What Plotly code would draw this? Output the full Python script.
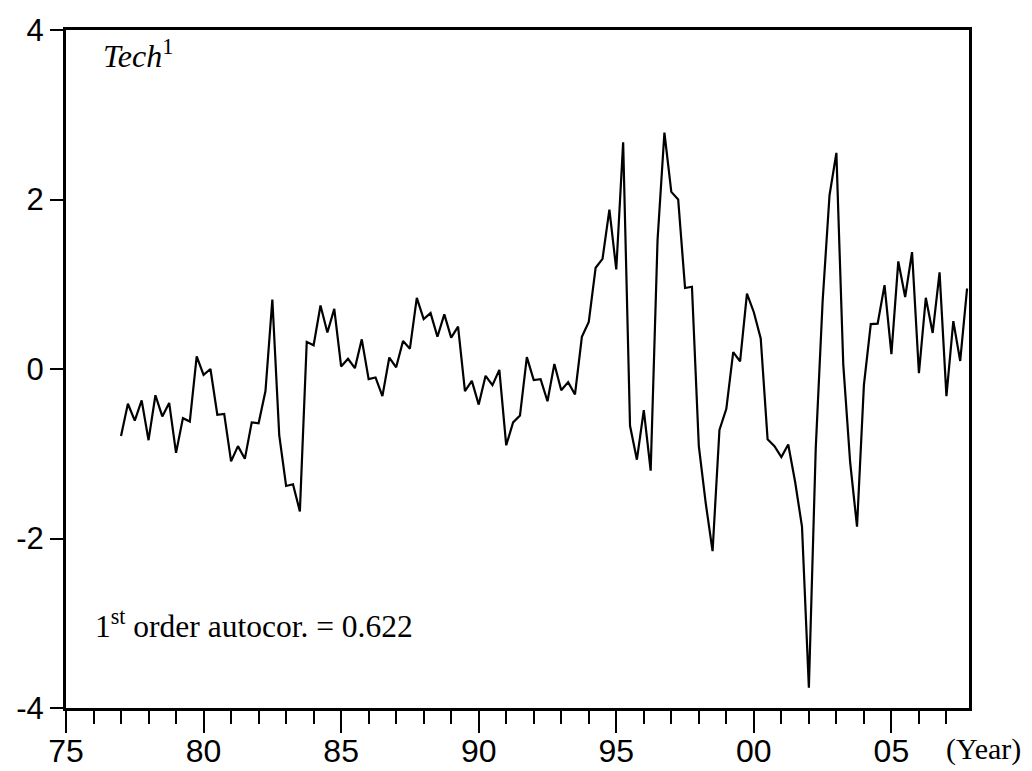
import plotly.graph_objects as go

# Quarterly series, 1977Q1 .. 2007Q4
start_year = 1977
tech_values = [
    -0.79, -0.41, -0.61, -0.37, -0.84, -0.31, -0.56, -0.40,
    -0.99, -0.58, -0.62, 0.15, -0.07, 0.00, -0.54, -0.53,
    -1.09, -0.91, -1.06, -0.63, -0.64, -0.26, 0.82, -0.78,
    -1.38, -1.36, -1.68, 0.32, 0.28, 0.75, 0.43, 0.71,
    0.03, 0.12, 0.01, 0.35, -0.12, -0.10, -0.32, 0.135,
    0.02, 0.33, 0.24, 0.84, 0.59, 0.66, 0.38, 0.645,
    0.37, 0.50, -0.26, -0.14, -0.42, -0.08, -0.19, -0.01,
    -0.90, -0.63, -0.55, 0.14, -0.13, -0.12, -0.38, 0.06,
    -0.25, -0.155, -0.30, 0.38, 0.555, 1.195, 1.30, 1.88,
    1.175, 2.675, -0.67, -1.07, -0.485, -1.20, 1.52, 2.79,
    2.09, 2.00, 0.955, 0.97, -0.91, -1.58, -2.15, -0.72,
    -0.47, 0.20, 0.09, 0.89, 0.67, 0.36, -0.83, -0.91,
    -1.04, -0.89, -1.33, -1.86, -3.76, -0.935, 0.80, 2.05,
    2.55, 0.055, -1.10, -1.86, -0.19, 0.53, 0.535, 0.99,
    0.175, 1.27, 0.85, 1.38, -0.05, 0.84, 0.425, 1.14,
    -0.32, 0.565, 0.095, 0.95,
]
x_years = [start_year + i / 4 for i in range(len(tech_values))]

x_tickvals = [1975, 1980, 1985, 1990, 1995, 2000, 2005]
x_ticktext = ["75", "80", "85", "90", "95", "00", "05"]
x_minorvals = list(range(1975, 2008))
y_tickvals = [-4, -2, 0, 2, 4]
y_ticktext = ["-4", "-2", "0", "2", "4"]

fig = go.Figure()
fig.add_trace(go.Scatter(
    x=x_years, y=tech_values, mode="lines",
    line=dict(color="black", width=2.2), showlegend=False,
))

sans = "Liberation Sans, Arial, sans-serif"
serif = "Liberation Serif, Times New Roman, serif"

fig.update_xaxes(
    range=[1975, 2007.82], tickmode="array", tickvals=x_tickvals, ticktext=x_ticktext,
    ticks="outside", ticklen=22, tickwidth=2, tickcolor="black",
    minor=dict(tickmode="array", tickvals=x_minorvals, ticks="outside", ticklen=13,
               tickwidth=2, tickcolor="black"),
    showline=True, linecolor="black", linewidth=3, mirror=True,
    showgrid=False, zeroline=False, automargin=False,
    ticklabelstandoff=-9,
    tickfont=dict(family=sans, size=32, color="black"),
)
fig.update_yaxes(
    range=[-4, 4], tickmode="array", tickvals=y_tickvals, ticktext=y_ticktext,
    ticks="outside", ticklen=13, tickwidth=2, tickcolor="black",
    showline=True, linecolor="black", linewidth=3, mirror=True,
    showgrid=False, zeroline=False, automargin=False,
    tickfont=dict(family=sans, size=31, color="black"),
)

fig.add_annotation(
    text="<i>Tech</i><sup>1</sup>", xref="paper", yref="paper",
    x=0.039, y=0.965, xanchor="left", yanchor="middle", showarrow=False,
    font=dict(family=serif, size=32, color="black"),
)
fig.add_annotation(
    text="1<sup>st</sup> order autocor. = 0.622", xref="paper", yref="paper",
    x=0.0304, y=0.124, xanchor="left", yanchor="middle", showarrow=False,
    font=dict(family=serif, size=31.5, color="black"),
)
fig.add_annotation(
    text="(Year)", xref="paper", yref="paper",
    x=0.972, y=-0.06, xanchor="left", yanchor="middle", showarrow=False,
    font=dict(family=serif, size=30, color="black"),
)

fig.update_layout(
    width=1024, height=763,
    margin=dict(l=58, r=63, t=22, b=63),
    paper_bgcolor="white", plot_bgcolor="white",
)

fig.write_html("out.html")
